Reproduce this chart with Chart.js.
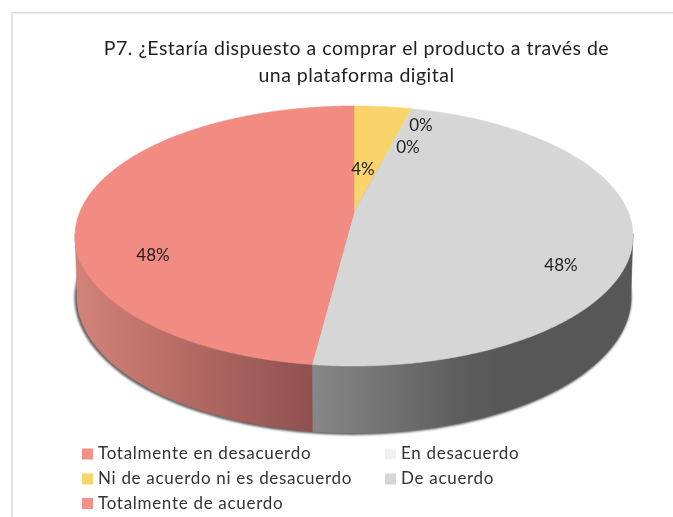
<!DOCTYPE html>
<html lang="es">
<head>
<meta charset="utf-8">
<title>P7</title>
<script src="https://cdn.jsdelivr.net/npm/chart.js@4"></script>
<style>
html,body{margin:0;padding:0;background:#fff;overflow:hidden}
#wrap{position:relative;width:673px;height:517px}
canvas{display:block;filter:blur(0.55px)}
</style>
</head>
<body>
<div id="wrap"><canvas id="c" width="673" height="517"></canvas></div>
<script>
const categories = ["Totalmente en desacuerdo","En desacuerdo","Ni de acuerdo ni es desacuerdo","De acuerdo","Totalmente de acuerdo"];
const values = [0, 0, 4, 48, 48];
const sliceColors = ["#F28B82","#F2F2F2","#F9D46A","#D6D6D6","#F28B82"];
const titleLines = ["P7. ¿Estaría dispuesto a comprar el producto a través de","una plataforma digital"];
const labelSpots = [[421,126],[408,148],[363,170],[561,266],[153,256]];
const legendSpots = [[82,454],[385,454],[82,479],[385,479],[82,503.5]];

const FONT = 'Lato, "Open Sans", sans-serif';
const VX = 354, VY = 212, AX = 274.2, BY = 125.6, P = 0.1846;
const WALL = {
  3: [[0,"#878787"],[0.45,"#5e5e5e"],[0.6,"#575757"],[1,"#575757"]],
  4: [[0,"#D28279"],[0.45,"#B56B64"],[1,"#8E5150"]]
};
function top3d(a){ // a: canvas angle of the arc element, -PI/2 = top of the pie
  const u = Math.cos(a), v = Math.sin(a), w = 1 - P*v;
  return [VX + AX*u/w, VY + BY*v/w, v];
}
function low3d(a){
  const t = top3d(a);
  return [VX + (t[0]-VX)*0.993, t[1] + 59 + 8*t[2]];
}
function arcPts(fn,s,e){
  const n = Math.max(2, Math.ceil(Math.abs(e-s)/0.01)), out=[];
  for(let i=0;i<=n;i++) out.push(fn(s+(e-s)*i/n));
  return out;
}
const pie3d = {
  id:'pie3d',
  beforeDraw(chart){
    chart.ctx.letterSpacing='0.5px';
  },
  beforeDatasetsDraw(chart){
    const ctx = chart.ctx, arcs = chart.getDatasetMeta(0).data;
    const visS = Math.asin(P)-0.02, visE = Math.PI-Math.asin(P)+0.02;
    ctx.save();
    // soft rim under the wall
    ctx.save();
    ctx.filter='blur(1.2px)';
    ctx.fillStyle='#5a5a5a';
    ctx.beginPath();
    ctx.ellipse(353,297.5,278.5,137.5,0,0,Math.PI*2);
    ctx.fill();
    ctx.restore();
    // side walls
    arcs.forEach((arc,i)=>{
      if(!arc.circumference) return;
      const lo = Math.max(arc.startAngle,visS), hi = Math.min(arc.endAngle,visE);
      if(hi<=lo) return;
      const up = arcPts(top3d,lo,hi), dn = arcPts(low3d,lo,hi).reverse();
      const g = ctx.createLinearGradient(i===3?313:78,0,i===3?633:313,0);
      (WALL[i]||[[0,"#888"],[1,"#888"]]).forEach(c=>g.addColorStop(c[0],c[1]));
      ctx.fillStyle=g; ctx.strokeStyle=g; ctx.lineWidth=0.6;
      ctx.beginPath();
      up.concat(dn).forEach((p,k)=>k?ctx.lineTo(p[0],p[1]):ctx.moveTo(p[0],p[1]));
      ctx.closePath(); ctx.fill(); ctx.stroke();
    });
    // top faces
    arcs.forEach((arc,i)=>{
      if(!arc.circumference) return;
      const pts = arcPts(top3d,arc.startAngle,arc.endAngle);
      ctx.fillStyle = sliceColors[i]; ctx.strokeStyle = sliceColors[i]; ctx.lineWidth=0.5;
      ctx.beginPath(); ctx.moveTo(VX,VY);
      pts.forEach(p=>ctx.lineTo(p[0],p[1]));
      ctx.closePath(); ctx.fill(); ctx.stroke();
    });
    ctx.restore();
    return false;
  },
  afterDraw(chart){
    const ctx = chart.ctx, total = values.reduce((a,b)=>a+b,0);
    ctx.save();
    // frame
    ctx.strokeStyle='#DADADA'; ctx.lineWidth=1.5;
    ctx.beginPath(); ctx.moveTo(12,517); ctx.lineTo(12,12.7); ctx.lineTo(673,12.7); ctx.stroke();
    // data labels
    ctx.font='17px '+FONT; ctx.fillStyle='#1f1f1f'; ctx.textAlign='center'; ctx.textBaseline='middle';
    ctx.letterSpacing='0.1px';
    values.forEach((v,i)=>ctx.fillText(Math.round(v/total*100)+'%',labelSpots[i][0],labelSpots[i][1]));
    // legend
    ctx.font='17px '+FONT; ctx.textAlign='left'; ctx.letterSpacing='0.7px';
    categories.forEach((c,i)=>{
      const [x,y]=legendSpots[i];
      ctx.fillStyle=sliceColors[i]==="#F28B82"?"#F4908A":sliceColors[i]; ctx.fillRect(x,y-5.5,11,11);
      ctx.fillStyle='#333333'; ctx.fillText(c,x+16,y);
    });
    ctx.restore();
  }
};
new Chart(document.getElementById('c'),{
  type:'pie',
  data:{labels:categories,datasets:[{data:values,backgroundColor:sliceColors,borderWidth:0}]},
  plugins:[pie3d],
  options:{
    responsive:false,animation:false,
    layout:{padding:{left:40,top:0,right:0,bottom:0}},
    plugins:{
      legend:{display:false},tooltip:{enabled:false},
      title:{display:true,text:titleLines,color:'#1f1f1f',padding:{top:35,bottom:0},
        font:{family:FONT,size:19.5,weight:'normal',lineHeight:1.4}}
    }
  }
});
</script>
</body>
</html>
